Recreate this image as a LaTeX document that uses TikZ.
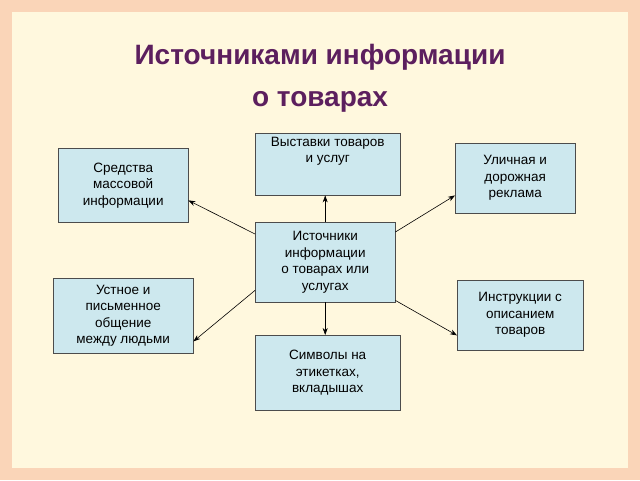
\documentclass[tikz,border=0pt]{standalone}
\usepackage{fontspec}
\setmainfont{Liberation Sans}
\usetikzlibrary{positioning,arrows.meta}
\definecolor{outerbg}{HTML}{FAD5B8}
\definecolor{innerbg}{HTML}{FFF8DE}
\definecolor{titlecol}{HTML}{5C1F5E}
\definecolor{boxfill}{HTML}{CDE8EE}
\tikzstyle{srcbox} = [draw=black!70, fill=boxfill, align=center, inner sep=2pt, font=\fontsize{13.5}{16.5}\selectfont, anchor=north west]
\tikzstyle{srcarrow} = [draw, -{Stealth[length=7pt,width=5pt]}, semithick]

\begin{document}
\begin{tikzpicture}[x=1pt,y=-1pt]

\fill [outerbg] (0,0) rectangle (640,480);
\fill [innerbg] (12,12) rectangle (628,468);

\node [font=\bfseries\fontsize{28}{42}\selectfont, text=titlecol, align=center] at (320,78) (title)
  {Источниками информации\\о товарах};

\node [srcbox, minimum width=145pt, minimum height=62pt] at (255,133) (top) {Выставки товаров\\и услуг\\[12pt]};
\node [srcbox, minimum width=130pt, minimum height=74pt] at (58,148) (left1) {Средства\\массовой\\информации};
\node [srcbox, minimum width=120pt, minimum height=70pt] at (455,143) (right1) {Уличная и\\дорожная\\реклама};
\node [srcbox, minimum width=140pt, minimum height=80pt] at (255,222) (center) {Источники\\информации\\о товарах или\\услугах};
\node [srcbox, minimum width=140pt, minimum height=75pt] at (53,278) (left2) {Устное и\\письменное\\общение\\между людьми};
\node [srcbox, minimum width=126pt, minimum height=70pt] at (457,280) (right2) {Инструкции с\\описанием\\товаров};
\node [srcbox, minimum width=145pt, minimum height=75pt] at (255,335) (bottom) {Символы на\\этикетках,\\вкладышах};

\path [srcarrow] (center.north) to (center.north |- top.south);
\path [srcarrow] ([yshift=-12pt]center.north west) to ([yshift=22pt]left1.south east);
\path [srcarrow] ([yshift=-10pt]center.north east) to ([yshift=18pt]right1.south west);
\path [srcarrow] ([yshift=12pt]center.south west) to ([yshift=12pt]left2.south east);
\path [srcarrow] ([yshift=2pt]center.south east) to ([yshift=15pt]right2.south west);
\path [srcarrow] (center.south) to (center.south |- bottom.north);

\end{tikzpicture}
\end{document}
